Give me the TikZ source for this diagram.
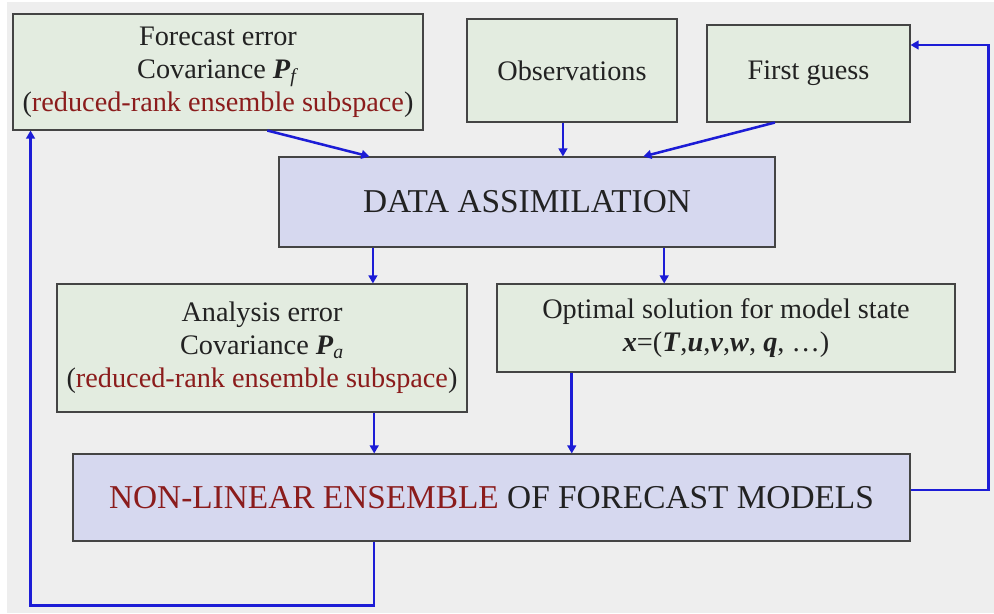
\documentclass[tikz,border=0pt]{standalone}
\usepackage{fontspec}
\setmainfont{Liberation Serif}
\usepackage{xcolor}
\usetikzlibrary{calc,arrows.meta,positioning}
\definecolor{bgc}{HTML}{EEEEEE}
\definecolor{grnc}{HTML}{E3ECE0}
\definecolor{bluc}{HTML}{D6D8EF}
\definecolor{edgc}{HTML}{444444}
\definecolor{arrc}{HTML}{1C1CD6}
\definecolor{redc}{HTML}{8B1C1C}
\definecolor{txtc}{HTML}{222222}
\tikzset{
  ar/.style={-{Triangle[length=6pt,width=6.5pt]},line width=1.9pt,arrc},
  gbox/.style={draw=edgc,line width=0.8pt,fill=grnc,align=center,text=txtc,inner sep=0pt,
    font=\fontsize{21.2}{24.75}\selectfont},
  bbox/.style={draw=edgc,line width=0.8pt,fill=bluc,align=center,text=txtc,inner sep=0pt,
    font=\fontsize{25}{30}\selectfont}
}
\newcommand{\bi}[1]{\textbf{\textit{#1}}}

\begin{document}
\begin{tikzpicture}[x=0.75pt,y=-0.75pt]
\fill[white] (0,0) rectangle (994,613);
\fill[bgc] (7,2) rectangle (994,613);
\useasboundingbox (0,0) rectangle (994,613);
% top row
\node[gbox,minimum width=307.5pt,minimum height=87pt] (fc) at (218,72)
  {Forecast error\\Covariance \bi{P}\textsubscript{\textit{f}}\\(\textcolor{redc}{reduced-rank ensemble subspace})};
\node[gbox,minimum width=157.5pt,minimum height=77.25pt] (obs) at (572,70.5) {Observations};
\node[gbox,minimum width=152.25pt,minimum height=72.75pt] (fg) at (808.5,73.5) {First guess};
% centre
\node[bbox,minimum width=372pt,minimum height=67.5pt] (da) at (527,202) {DATA ASSIMILATION};
\node[gbox,minimum width=307.5pt,minimum height=96pt] (an) at (262,348)
  {Analysis error\\Covariance \bi{P}\textsubscript{\textit{a}}\\(\textcolor{redc}{reduced-rank ensemble subspace})};
\node[gbox,minimum width=343.5pt,minimum height=66pt] (opt) at (726,328)
  {Optimal solution for model state\\\bi{x}=(\bi{T},\bi{u},\bi{v},\bi{w}, \bi{q}, \dots)};
\node[bbox,minimum width=627.75pt,minimum height=65.25pt] (nl) at (491.5,497.5)
  {\textcolor{redc}{NON-LINEAR ENSEMBLE} OF FORECAST MODELS};
% arrows
\coordinate (f1) at ($(fc.south west)!0.62!(fc.south east)$);
\coordinate (f2) at ($(fc.south west)!0.044!(fc.south east)$);
\coordinate (o1) at ($(obs.south west)!0.457!(obs.south east)$);
\coordinate (g1) at ($(fg.south west)!0.335!(fg.south east)$);
\coordinate (g2) at ($(fg.east)+(0,-28.5)$);
\coordinate (d1) at ($(da.north west)!0.183!(da.north east)$);
\coordinate (d2) at ($(da.north west)!0.734!(da.north east)$);
\coordinate (d3) at ($(da.south west)!0.19!(da.south east)$);
\coordinate (d4) at ($(da.south west)!0.776!(da.south east)$);
\coordinate (a1) at ($(an.south west)!0.773!(an.south east)$);
\coordinate (p1) at ($(opt.south west)!0.164!(opt.south east)$);
\coordinate (n1) at ($(nl.east)+(0,-7.5)$);
\coordinate (n2) at ($(nl.south west)!0.36!(nl.south east)$);
\draw[ar] (f1) -- (d1);
\draw[ar] (o1) -- (o1 |- da.north);
\draw[ar] (g1) -- (d2);
\draw[ar] (d3) -- (d3 |- an.north);
\draw[ar] (d4) -- (d4 |- opt.north);
\draw[ar] (a1) -- (a1 |- nl.north);
\draw[ar] (p1) -- (p1 |- nl.north);
\draw[ar] (n1) -- ++(78,0) |- (g2);
\draw[ar] (n2) -- ++(0,64) -| (f2);
\end{tikzpicture}
\end{document}
